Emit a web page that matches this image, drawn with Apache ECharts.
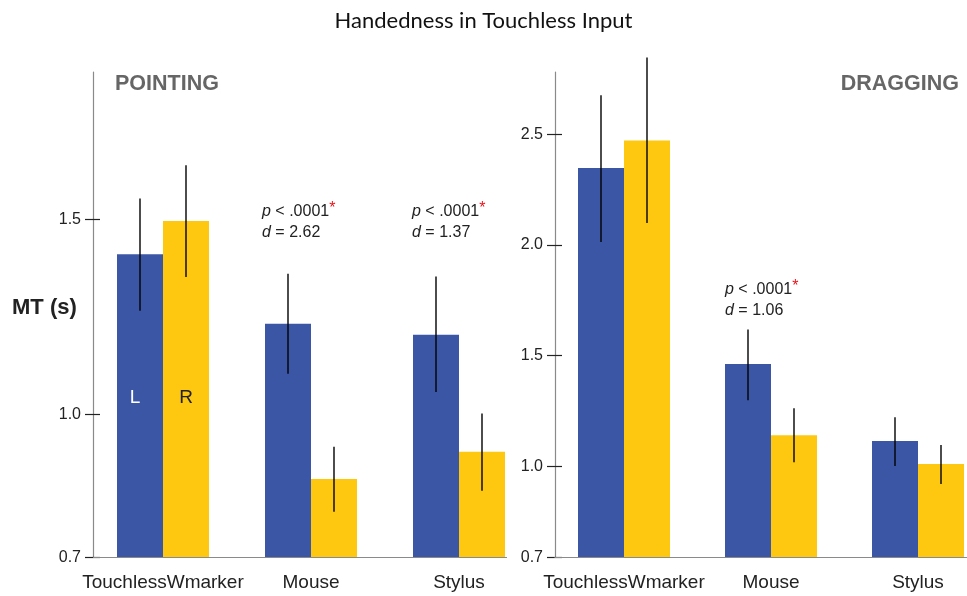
<!DOCTYPE html>
<html>
<head>
<meta charset="utf-8">
<script src="https://cdn.jsdelivr.net/npm/echarts@6/dist/echarts.min.js"></script>
<style>html,body{margin:0;padding:0;background:#fff}#c{width:967px;height:596px}</style>
</head>
<body>
<div id="c"></div>
<script>
// ---- data ----
const categories = ['TouchlessWmarker', 'Mouse', 'Stylus'];
const pointingL = [1.411, 1.233, 1.205];
const pointingR = [1.496, 0.835, 0.905];
const pointingLLo = [1.266, 1.105, 1.058];
const pointingLHi = [1.554, 1.361, 1.354];
const pointingRLo = [1.353, 0.751, 0.805];
const pointingRHi = [1.639, 0.918, 1.003];
const draggingL = [2.347, 1.461, 1.113];
const draggingR = [2.472, 1.140, 1.009];
const draggingLLo = [2.013, 1.298, 1.000];
const draggingLHi = [2.676, 1.617, 1.221];
const draggingRLo = [2.099, 1.018, 0.919];
const draggingRHi = [2.846, 1.261, 1.095];
const pointingTicks = [0.634, 1.0, 1.5];
const pointingTickLabels = ['0.7', '1.0', '1.5'];
const pointingMax = 1.878;
const draggingTicks = [0.587, 1.0, 1.5, 2.0, 2.5];
const draggingTickLabels = ['0.7', '1.0', '1.5', '2.0', '2.5'];
const draggingMax = 2.781;

const BLUE = '#3C56A6', YELLOW = '#FEC811', AXIS = '#8a8a8a', TXT = '#222';
const FONT = '"Liberation Sans", Arial, sans-serif';
const BARW = 46;

function errData(lLo, lHi, rLo, rHi) {
  const d = [];
  for (let i = 0; i < categories.length; i++) {
    d.push([i, lLo[i], lHi[i], -1]);
    d.push([i, rLo[i], rHi[i], 1]);
  }
  return d;
}

function makeRender(baseEnd) {
  return function (params, api) {
    const cat = api.value(0);
    const side = api.value(3);
    const hi = api.coord([cat, api.value(2)]);
    const lo = api.coord([cat, api.value(1)]);
    const x = hi[0] + side * BARW / 2;
    const children = [{
      type: 'line',
      shape: { x1: x, y1: hi[1], x2: x, y2: lo[1] },
      style: { stroke: '#000', lineWidth: 1.4 }
    }];
    if (params.dataIndex === 0) {
      const cs = params.coordSys;
      const bottom = cs.y + cs.height;
      const last = api.coord([categories.length - 1, 1]);
      children.push({
        type: 'line',
        shape: { x1: cs.x + 4, y1: bottom, x2: baseEnd === 'edge' ? 967 : last[0] + BARW + 2, y2: bottom },
        style: { stroke: AXIS, lineWidth: 1.2 }
      });
    }
    return { type: 'group', children };
  };
}

function yAxisPair(gridIndex, min, max, ticks, labels, offset) {
  const mapLabel = (v) => {
    for (let i = 0; i < ticks.length; i++) if (Math.abs(ticks[i] - v) < 1e-6) return labels[i];
    return '';
  };
  return [{
    type: 'value', gridIndex, min, max, offset, position: 'left',
    splitLine: { show: false },
    axisLine: { show: true, lineStyle: { color: AXIS, width: 1.2 } },
    axisTick: { show: true, customValues: ticks, length: 8, lineStyle: { color: TXT, width: 1.2 } },
    axisLabel: { customValues: ticks, formatter: mapLabel, color: TXT, fontSize: 16, fontFamily: FONT, margin: 12 }
  }, {
    type: 'value', gridIndex, min, max, offset, position: 'left',
    splitLine: { show: false },
    axisLine: { show: false },
    axisTick: { show: true, inside: true, customValues: ticks, length: 7, lineStyle: { color: TXT, width: 1.2 } },
    axisLabel: { show: false }
  }];
}

const chart = echarts.init(document.getElementById('c'), null, { renderer: 'canvas' });
const catAxis = (gridIndex) => ({
  type: 'category', gridIndex, data: categories,
  axisLine: { show: false }, axisTick: { show: false },
  axisLabel: { interval: 0, hideOverlap: false, color: TXT, fontSize: 19, fontFamily: FONT, margin: 16 }
});
const barLabelL = { show: true, position: 'insideBottom', distance: 150, offset: [-5, 0], formatter: 'L', color: '#fff', fontSize: 19, fontFamily: FONT };
const barLabelR = { show: true, position: 'insideBottom', distance: 150, formatter: 'R', color: TXT, fontSize: 19, fontFamily: FONT };

const annot = (x, y, d) => ({
  type: 'text', left: x, top: y,
  style: {
    text: '{i|p} < .0001{r|*}\n{i|d} = ' + d,
    font: '16px ' + FONT, fill: TXT, lineHeight: 21,
    rich: { i: { fontStyle: 'italic', fontSize: 16, fontFamily: FONT }, r: { fill: '#e8151b', fontSize: 16, fontFamily: FONT, verticalAlign: 'top' } }
  }
});

chart.setOption({
  animation: false,
  backgroundColor: '#fff',
  grid: [
    { left: 89, width: 444, top: 72, bottom: 38.5, outerBoundsMode: 'none', containLabel: false },
    { left: 550.5, width: 441, top: 72, bottom: 38.5, outerBoundsMode: 'none', containLabel: false }
  ],
  xAxis: [catAxis(0), catAxis(1)],
  yAxis: [
    ...yAxisPair(0, pointingTicks[0], pointingMax, pointingTicks, pointingTickLabels, -4),
    ...yAxisPair(1, draggingTicks[0], draggingMax, draggingTicks, draggingTickLabels, -4.5)
  ],
  series: [
    { type: 'bar', xAxisIndex: 0, yAxisIndex: 0, barWidth: BARW, barGap: '0%', itemStyle: { color: BLUE },
      data: pointingL.map((v, i) => i === 0 ? { value: v, label: barLabelL } : v) },
    { type: 'bar', xAxisIndex: 0, yAxisIndex: 0, barWidth: BARW, barGap: '0%', itemStyle: { color: YELLOW },
      data: pointingR.map((v, i) => i === 0 ? { value: v, label: barLabelR } : v) },
    { type: 'bar', xAxisIndex: 1, yAxisIndex: 2, barWidth: BARW, barGap: '0%', itemStyle: { color: BLUE }, data: draggingL },
    { type: 'bar', xAxisIndex: 1, yAxisIndex: 2, barWidth: BARW, barGap: '0%', itemStyle: { color: YELLOW }, data: draggingR },
    { type: 'custom', xAxisIndex: 0, yAxisIndex: 0, z: 5, clip: false, renderItem: makeRender('bar'),
      data: errData(pointingLLo, pointingLHi, pointingRLo, pointingRHi) },
    { type: 'custom', xAxisIndex: 1, yAxisIndex: 2, z: 5, clip: false, renderItem: makeRender('edge'),
      data: errData(draggingLLo, draggingLHi, draggingRLo, draggingRHi) }
  ],
  graphic: [
    { type: 'text', left: 'center', top: 10, style: { text: 'Handedness in Touchless Input', font: '22px Lato, "DejaVu Sans", sans-serif', fill: '#111' } },
    { type: 'text', left: 115, top: 73, style: { text: 'POINTING', font: 'bold 21.5px ' + FONT, fill: '#666' } },
    { type: 'text', right: 8, top: 73, style: { text: 'DRAGGING', font: 'bold 21.5px ' + FONT, fill: '#666' } },
    { type: 'text', left: 12, top: 297, style: { text: 'MT (s)', font: 'bold 22px ' + FONT, fill: '#222' } },
    annot(262, 201, '2.62'),
    annot(412, 201, '1.37'),
    annot(725, 279, '1.06')
  ]
});
</script>
</body>
</html>
